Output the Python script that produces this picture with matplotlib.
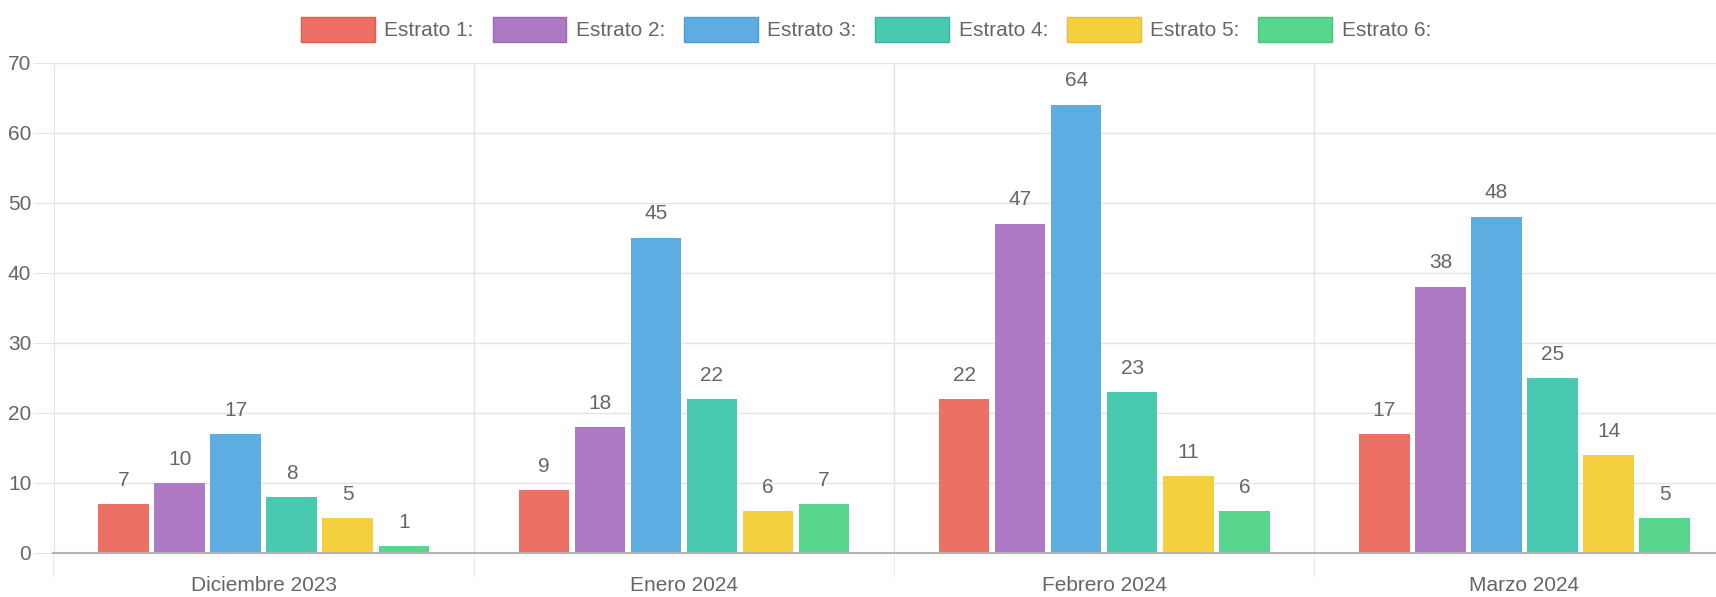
import numpy as np
import matplotlib
matplotlib.use("Agg")
import matplotlib.pyplot as plt
from matplotlib.patches import Patch

# datos
meses = ["Diciembre 2023", "Enero 2024", "Febrero 2024", "Marzo 2024"]
estratos = ["Estrato 1:", "Estrato 2:", "Estrato 3:", "Estrato 4:", "Estrato 5:", "Estrato 6:"]
estrato_1 = [7, 9, 22, 17]
estrato_2 = [10, 18, 47, 38]
estrato_3 = [17, 45, 64, 48]
estrato_4 = [8, 22, 23, 25]
estrato_5 = [5, 6, 11, 14]
estrato_6 = [1, 7, 6, 5]
y_ticks = [0, 10, 20, 30, 40, 50, 60, 70]

series = [estrato_1, estrato_2, estrato_3, estrato_4, estrato_5, estrato_6]
colores = ["#EC7063", "#AF7AC5", "#5DADE2", "#48C9B0", "#F4D03F", "#58D68D"]
bordes = ["#D9604F", "#9B68B3", "#4F9CD2", "#3DB59E", "#F0B83A", "#4CC47C"]

plt.rcParams["font.family"] = ["Liberation Sans", "DejaVu Sans"]
texto = "#666666"
grid_c = "#e4e4e4"
fs = 15

fig = plt.figure(figsize=(17.16, 5.97), dpi=100)
ax = fig.add_axes([53.5 / 1716, (597 - 552.7) / 597, 4 * 420.3 / 1716, 490.2 / 597])

x = np.arange(len(meses))
slot = 0.8 / len(series)
ancho = slot * 0.9
for i, (vals, c) in enumerate(zip(series, colores)):
    pos = x - 0.4 + slot * (i + 0.5)
    ax.bar(pos, vals, width=ancho, color=c, edgecolor="none", zorder=3)
    for px, v in zip(pos, vals):
        ax.annotate(str(v), (px, v), xytext=(0, 17), textcoords="offset points",
                    ha="center", va="center", fontsize=fs, color=texto, zorder=4)

ax.set_xlim(-0.5, len(meses) - 0.5)
ax.set_ylim(0, 70)
ax.set_yticks(y_ticks)
ax.set_xticks(x)
ax.set_xticklabels(meses)
ax.set_xticks(np.arange(len(meses) + 1) - 0.5, minor=True)

ax.grid(axis="y", color=grid_c, linewidth=1, zorder=0)
ax.grid(axis="x", which="minor", color=grid_c, linewidth=1, zorder=0)
ax.tick_params(axis="y", length=15, color=grid_c, labelsize=fs, labelcolor=texto, pad=1)
ax.tick_params(axis="x", which="major", length=0, labelsize=fs, labelcolor=texto, pad=17)
ax.tick_params(axis="x", which="minor", length=17, color=grid_c)

for s in ["top", "right"]:
    ax.spines[s].set_visible(False)
ax.spines["left"].set_color(grid_c)
ax.spines["bottom"].set_color("#b5b5b5")
ax.spines["bottom"].set_linewidth(1.5)
ax.spines["bottom"].set_zorder(5)

handles = [Patch(facecolor=c, edgecolor=b, linewidth=1) for c, b in zip(colores, bordes)]
fig.legend(handles, estratos, loc="center", bbox_to_anchor=(866 / 1716, 1 - 29.5 / 597),
           ncol=6, frameon=False, fontsize=fs, labelcolor=texto,
           handlelength=3.55, handleheight=1.4, handletextpad=0.45, columnspacing=0.9,
           borderaxespad=0, borderpad=0)

fig.savefig("out.png", dpi=100)
